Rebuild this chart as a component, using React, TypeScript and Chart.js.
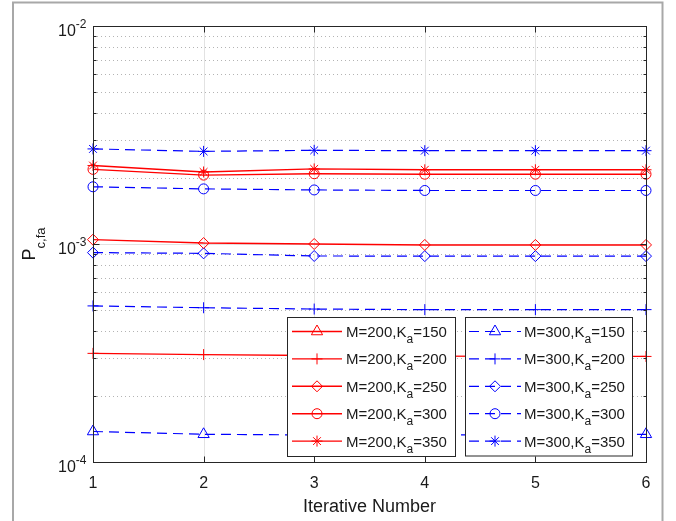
import React, { useEffect, useRef } from "react";
import { Chart, registerables } from "chart.js";

Chart.register(...registerables);

// ---- data ----
const iterations = [1, 2, 3, 4, 5, 6];
const xTickLabels = ["1", "2", "3", "4", "5", "6"];
const yMajorTicks = [1e-4, 1e-3, 1e-2];
const yMajorExponents = ["-4", "-3", "-2"];
const yMinorMantissas = [2, 3, 4, 5, 6, 7, 8, 9];

// M = 200 (red, solid)
const m200k150 = [7.0e-5, 6.9e-5, 6.8e-5, 6.8e-5, 6.8e-5, 6.8e-5];
const m200k200 = [3.15e-4, 3.11e-4, 3.08e-4, 3.06e-4, 3.05e-4, 3.05e-4];
const m200k250 = [1.047e-3, 1.01e-3, 1.0e-3, 0.99e-3, 0.99e-3, 0.99e-3];
const m200k300 = [2.2e-3, 2.07e-3, 2.1e-3, 2.09e-3, 2.09e-3, 2.09e-3];
const m200k350 = [2.29e-3, 2.14e-3, 2.21e-3, 2.19e-3, 2.19e-3, 2.19e-3];
// M = 300 (blue, dashed)
const m300k150 = [1.38e-4, 1.34e-4, 1.33e-4, 1.33e-4, 1.335e-4, 1.34e-4];
const m300k200 = [5.2e-4, 5.1e-4, 5.03e-4, 5.0e-4, 5.0e-4, 5.0e-4];
const m300k250 = [9.13e-4, 9.06e-4, 8.81e-4, 8.8e-4, 8.8e-4, 8.8e-4];
const m300k300 = [1.83e-3, 1.79e-3, 1.77e-3, 1.76e-3, 1.76e-3, 1.76e-3];
const m300k350 = [2.73e-3, 2.66e-3, 2.69e-3, 2.68e-3, 2.68e-3, 2.68e-3];

const kaValues = ["150", "200", "250", "300", "350"];
const redSeries = [m200k150, m200k200, m200k250, m200k300, m200k350];
const blueSeries = [m300k150, m300k200, m300k250, m300k300, m300k350];
const markerStyles = ["triangle", "cross", "rectRot", "circle", "star"];
const markerRadii = [6.5, 5.5, 5.5, 5, 5.5];

const RED = "#ff0000";
const BLUE = "#0000ff";
const DASH = [10, 6];
const FONT = "'Liberation Sans', Arial, Helvetica, sans-serif";
const TEXT = "#1a1a1a";
const AXIS = "#262626";

function drawMarker(ctx: CanvasRenderingContext2D, style: string, x: number, y: number, r: number) {
  ctx.beginPath();
  if (style === "circle") {
    ctx.arc(x, y, r, 0, Math.PI * 2);
  } else if (style === "triangle") {
    ctx.moveTo(x, y - r);
    ctx.lineTo(x + Math.sin((2 * Math.PI) / 3) * r, y - Math.cos((2 * Math.PI) / 3) * r);
    ctx.lineTo(x + Math.sin((4 * Math.PI) / 3) * r, y - Math.cos((4 * Math.PI) / 3) * r);
    ctx.closePath();
  } else if (style === "rectRot") {
    ctx.moveTo(x - r, y);
    ctx.lineTo(x, y - r);
    ctx.lineTo(x + r, y);
    ctx.lineTo(x, y + r);
    ctx.closePath();
  } else if (style === "cross") {
    ctx.moveTo(x - r, y);
    ctx.lineTo(x + r, y);
    ctx.moveTo(x, y - r);
    ctx.lineTo(x, y + r);
  } else if (style === "star") {
    const d = r * Math.SQRT1_2;
    ctx.moveTo(x - r, y);
    ctx.lineTo(x + r, y);
    ctx.moveTo(x, y - r);
    ctx.lineTo(x, y + r);
    ctx.moveTo(x - d, y - d);
    ctx.lineTo(x + d, y + d);
    ctx.moveTo(x - d, y + d);
    ctx.lineTo(x + d, y - d);
  }
  ctx.stroke();
}

const matlabPlugin = {
  id: "matlabStyle",
  beforeDraw(chart: any) {
    const ctx: CanvasRenderingContext2D = chart.ctx;
    ctx.save();
    ctx.fillStyle = "#ffffff";
    ctx.fillRect(0, 0, chart.width, chart.height);
    ctx.strokeStyle = "#a8a8a8";
    ctx.lineWidth = 2;
    ctx.strokeRect(13, 2.5, 649.5, chart.height + 20);
    ctx.restore();
  },
  beforeDatasetsDraw(chart: any) {
    const ctx: CanvasRenderingContext2D = chart.ctx;
    const a = chart.chartArea;
    const xs = chart.scales.x;
    const ys = chart.scales.y;
    ctx.save();
    // minor dotted grid
    ctx.strokeStyle = "#b4b4b4";
    ctx.lineWidth = 1;
    ctx.setLineDash([1, 3]);
    for (let i = 0; i < yMajorTicks.length - 1; i++) {
      for (const m of yMinorMantissas) {
        const py = Math.round(ys.getPixelForValue(yMajorTicks[i] * m)) + 0.5;
        ctx.beginPath();
        ctx.moveTo(a.left, py);
        ctx.lineTo(a.right, py);
        ctx.stroke();
      }
    }
    // major solid grid
    ctx.setLineDash([]);
    ctx.strokeStyle = "#e2e2e2";
    for (const v of iterations) {
      const px = Math.round(xs.getPixelForValue(v)) + 0.5;
      ctx.beginPath();
      ctx.moveTo(px, a.top);
      ctx.lineTo(px, a.bottom);
      ctx.stroke();
    }
    for (const v of yMajorTicks) {
      const py = Math.round(ys.getPixelForValue(v)) + 0.5;
      ctx.beginPath();
      ctx.moveTo(a.left, py);
      ctx.lineTo(a.right, py);
      ctx.stroke();
    }
    ctx.restore();
  },
  afterDatasetsDraw(chart: any) {
    const ctx: CanvasRenderingContext2D = chart.ctx;
    const a = chart.chartArea;
    const xs = chart.scales.x;
    const ys = chart.scales.y;
    const L = Math.round(a.left) + 0.5;
    const R = Math.round(a.right) + 0.5;
    const T = Math.round(a.top) + 0.5;
    const B = Math.round(a.bottom) + 0.5;
    ctx.save();
    // box
    ctx.strokeStyle = AXIS;
    ctx.lineWidth = 1;
    ctx.setLineDash([]);
    ctx.strokeRect(L, T, R - L, B - T);
    // x ticks
    ctx.beginPath();
    for (const v of iterations) {
      const px = Math.round(xs.getPixelForValue(v)) + 0.5;
      ctx.moveTo(px, B);
      ctx.lineTo(px, B - 6);
      ctx.moveTo(px, T);
      ctx.lineTo(px, T + 6);
    }
    // y major ticks
    for (const v of yMajorTicks) {
      const py = Math.round(ys.getPixelForValue(v)) + 0.5;
      ctx.moveTo(L, py);
      ctx.lineTo(L + 6, py);
      ctx.moveTo(R, py);
      ctx.lineTo(R - 6, py);
    }
    // y minor ticks
    for (let i = 0; i < yMajorTicks.length - 1; i++) {
      for (const m of yMinorMantissas) {
        const py = Math.round(ys.getPixelForValue(yMajorTicks[i] * m)) + 0.5;
        ctx.moveTo(L, py);
        ctx.lineTo(L + 3, py);
        ctx.moveTo(R, py);
        ctx.lineTo(R - 3, py);
      }
    }
    ctx.stroke();

    // x tick labels
    ctx.fillStyle = TEXT;
    ctx.font = `16px ${FONT}`;
    ctx.textAlign = "center";
    ctx.textBaseline = "alphabetic";
    iterations.forEach((v, i) => {
      ctx.fillText(xTickLabels[i], xs.getPixelForValue(v), 488);
    });

    // y tick labels 10^e
    yMajorTicks.forEach((v, i) => {
      const py = ys.getPixelForValue(v);
      const sup = yMajorExponents[i];
      ctx.font = `12px ${FONT}`;
      const supW = ctx.measureText(sup).width;
      const endX = 86.5;
      ctx.textAlign = "left";
      ctx.fillText(sup, endX - supW, py + 1.5);
      ctx.font = `16px ${FONT}`;
      ctx.textAlign = "right";
      ctx.fillText("10", endX - supW, py + 10);
    });

    // x axis title
    ctx.font = `18px ${FONT}`;
    ctx.textAlign = "center";
    ctx.fillText("Iterative Number", (a.left + a.right) / 2, 512);

    // y axis title P_{c,fa}
    ctx.save();
    ctx.translate(34.5, (a.top + a.bottom) / 2);
    ctx.rotate(-Math.PI / 2);
    ctx.font = `18px ${FONT}`;
    const pW = ctx.measureText("P").width;
    ctx.font = `13px ${FONT}`;
    const sW = ctx.measureText("c,fa").width;
    const start = -(pW + sW) / 2;
    ctx.textAlign = "left";
    ctx.font = `18px ${FONT}`;
    ctx.fillText("P", start, 0);
    ctx.font = `13px ${FONT}`;
    ctx.fillText("c,fa", start + pW, 10);
    ctx.restore();

    // legends
    const datasets = chart.data.datasets;
    const boxes = [
      { x: 287.5, y: 317.5, w: 168, h: 139, lx0: 292, lx1: 342, mx: 317, tx: 346, m: "200", offset: 0 },
      { x: 465.5, y: 317.5, w: 167, h: 138.5, lx0: 469, lx1: 521, mx: 495, tx: 524, m: "300", offset: 5 },
    ];
    for (const bx of boxes) {
      ctx.fillStyle = "#ffffff";
      ctx.fillRect(bx.x, bx.y, bx.w, bx.h);
      ctx.strokeStyle = AXIS;
      ctx.lineWidth = 1;
      ctx.setLineDash([]);
      ctx.strokeRect(bx.x, bx.y, bx.w, bx.h);
      for (let i = 0; i < 5; i++) {
        const ds = datasets[bx.offset + i];
        const cy = 331.5 + i * 27.4;
        ctx.strokeStyle = ds.borderColor;
        ctx.lineWidth = ds.borderWidth;
        ctx.setLineDash(ds.borderDash || []);
        ctx.beginPath();
        ctx.moveTo(bx.lx0, cy);
        ctx.lineTo(bx.lx1, cy);
        ctx.stroke();
        ctx.setLineDash([]);
        ctx.lineWidth = 1;
        drawMarker(ctx, ds.pointStyle, bx.mx, cy, ds.pointRadius);
        // label M=xxx,K_a=yyy
        ctx.fillStyle = TEXT;
        ctx.textAlign = "left";
        ctx.font = `15px ${FONT}`;
        const part1 = `M=${bx.m},K`;
        ctx.fillText(part1, bx.tx, cy + 5.5);
        const w1 = ctx.measureText(part1).width;
        ctx.font = `12px ${FONT}`;
        ctx.fillText("a", bx.tx + w1, cy + 11.5);
        const w2 = ctx.measureText("a").width;
        ctx.font = `15px ${FONT}`;
        ctx.fillText(`=${kaValues[i]}`, bx.tx + w1 + w2, cy + 5.5);
      }
    }
    ctx.restore();
  },
};

export default function App() {
  const canvasRef = useRef<HTMLCanvasElement | null>(null);

  useEffect(() => {
    const canvas = canvasRef.current;
    if (!canvas) return;
    const mk = (vals: number[], color: string, dashed: boolean, i: number, m: string) => ({
      label: `M=${m},Ka=${kaValues[i]}`,
      data: iterations.map((x, j) => ({ x, y: vals[j] })),
      borderColor: color,
      backgroundColor: color,
      borderWidth: dashed ? 1.2 : 1.4,
      borderDash: dashed ? DASH : [],
      pointStyle: markerStyles[i],
      pointRadius: markerRadii[i],
      pointBorderWidth: 1,
      pointBorderColor: color,
      pointBackgroundColor: "rgba(0,0,0,0)",
      tension: 0,
      clip: { left: 8, right: 8, top: 8, bottom: 8 },
    });
    const datasets: any[] = [
      ...redSeries.map((v, i) => mk(v, RED, false, i, "200")),
      ...blueSeries.map((v, i) => mk(v, BLUE, true, i, "300")),
    ];
    const chart = new Chart(canvas, {
      type: "line",
      data: { datasets },
      options: {
        animation: false,
        responsive: false,
        events: [],
        layout: { padding: { left: 93, right: 30, top: 26, bottom: 59 } },
        plugins: { legend: { display: false }, tooltip: { enabled: false } },
        scales: {
          x: {
            type: "linear",
            min: 1,
            max: 6,
            ticks: { display: false, stepSize: 1 },
            grid: { display: false },
            border: { display: false },
            afterFit: (s: any) => {
              s.height = 0;
            },
          },
          y: {
            type: "logarithmic",
            min: 1e-4,
            max: 1e-2,
            ticks: { display: false },
            grid: { display: false },
            border: { display: false },
            afterFit: (s: any) => {
              s.width = 0;
            },
          },
        },
      },
      plugins: [matlabPlugin],
    });
    return () => chart.destroy();
  }, []);

  return (
    <div style={{ position: "absolute", left: 0, top: 0, width: 676, height: 521 }}>
      <canvas ref={canvasRef} width={676} height={521} style={{ width: 676, height: 521, display: "block" }} />
    </div>
  );
}
